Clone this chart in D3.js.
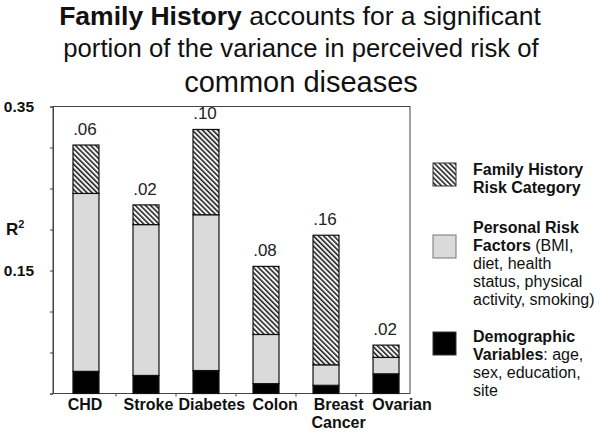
<!DOCTYPE html>
<html><head><meta charset="utf-8">
<script src="https://cdn.jsdelivr.net/npm/d3@7"></script>
<style>
html,body{margin:0;padding:0;background:#fff;}
svg{display:block;font-family:"Liberation Sans",Arial,Helvetica,sans-serif;}
</style></head>
<body><svg id="chart" width="600" height="434"></svg>
<script>
// ---- data ----
const categories = ["CHD", "Stroke", "Diabetes", "Colon", "Breast Cancer", "Ovarian"];
const demographic = [0.027, 0.022, 0.028, 0.012, 0.010, 0.024];
const personal = [0.217, 0.184, 0.190, 0.060, 0.025, 0.020];
const familyHistory = [0.059, 0.024, 0.104, 0.083, 0.158, 0.015];
const valueLabels = [".06", ".02", ".10", ".08", ".16", ".02"];
const yTicks = [0, 0.05, 0.10, 0.15, 0.20, 0.25, 0.30, 0.35];
const yTickLabels = {"0.15": "0.15", "0.35": "0.35"};
const seriesKeys = ["demographic", "personal", "family"];

const svg = d3.select("#chart");
const ink = "#111";

// hatch pattern
const defs = svg.append("defs");
const pat = defs.append("pattern").attr("id", "hatch").attr("patternUnits", "userSpaceOnUse")
  .attr("width", 3.6).attr("height", 3.6).attr("patternTransform", "rotate(-45)");
pat.append("rect").attr("width", 3.6).attr("height", 3.6).attr("fill", "#f4f4f4");
pat.append("rect").attr("x", 0).attr("width", 1.5).attr("height", 3.6).attr("fill", "#1a1a1a");

const plot = {left: 53, right: 410, top: 106.5, bottom: 393.5};
const y = d3.scaleLinear().domain([0, 0.35]).range([plot.bottom, plot.top]);
const x = d3.scaleBand().domain(categories).range([56, 416]).paddingInner(0.567).paddingOuter(0.283);
const xLab = d3.scalePoint().domain(categories).range([85, 402]);

const table = categories.map((c, i) => ({cat: c, demographic: demographic[i], personal: personal[i], family: familyHistory[i], label: valueLabels[i]}));
const stacked = d3.stack().keys(seriesKeys)(table);
const fills = {demographic: "#000", personal: "#dadada", family: "url(#hatch)"};

// title
const title = svg.append("text").attr("text-anchor", "middle").attr("fill", ink);
const l1 = title.append("tspan").attr("x", 300).attr("y", 25).attr("font-size", 26.5);
l1.append("tspan").attr("font-weight", "bold").text("Family History");
l1.append("tspan").text(" accounts for a significant");
title.append("tspan").attr("x", 301).attr("y", 57).attr("font-size", 25.7).text("portion of the variance in perceived risk of");
title.append("tspan").attr("x", 301).attr("y", 92).attr("font-size", 29).text("common diseases");

// frame
svg.append("rect").attr("x", plot.left).attr("y", plot.top).attr("width", plot.right - plot.left)
  .attr("height", plot.bottom - plot.top).attr("fill", "none").attr("stroke", "#444").attr("stroke-width", 1);

// y axis
const yAxis = d3.axisLeft(y).tickValues(yTicks).tickSize(3).tickFormat(d => yTickLabels[d.toFixed(2)] || "");
const gy = svg.append("g").attr("transform", `translate(${plot.left},0)`).call(yAxis);
gy.select(".domain").attr("stroke", "#444");
gy.selectAll(".tick line").attr("stroke", "#444");
gy.selectAll(".tick text").attr("x", -19).attr("font-size", 15.5).attr("font-weight", "bold").attr("fill", ink)
  .attr("font-family", "Liberation Sans, Arial, sans-serif");

// R2 label
const r2 = svg.append("text").attr("x", 6).attr("y", y(0.2) + 5).attr("font-size", 17).attr("font-weight", "bold").attr("fill", ink);
r2.append("tspan").text("R");
r2.append("tspan").attr("font-size", 11).attr("dy", -7).text("2");

// x axis
const xAxis = d3.axisBottom(x).tickSize(3).tickFormat("");
const gx = svg.append("g").attr("transform", `translate(0,${plot.bottom})`).call(xAxis);
gx.select(".domain").attr("d", `M${plot.left},0H${plot.right}`).attr("stroke", "#444");
gx.selectAll(".tick").attr("transform", d => `translate(${x(d) + x.bandwidth() + x.step() * x.paddingInner() / 2},0)`);
gx.selectAll(".tick").filter(d => d === categories[categories.length - 1]).remove();
gx.selectAll(".tick line").attr("stroke", "#444");

// bars
svg.append("g").selectAll("g").data(stacked).join("g").attr("fill", d => fills[d.key])
  .selectAll("rect").data(d => d).join("rect")
  .attr("x", d => x(d.data.cat)).attr("width", x.bandwidth())
  .attr("y", d => y(d[1])).attr("height", d => y(d[0]) - y(d[1]))
  .attr("stroke", "#111").attr("stroke-width", 1.2);

// value labels
svg.append("g").selectAll("text").data(table).join("text")
  .attr("x", d => x(d.cat) + x.bandwidth() / 2 - 1)
  .attr("y", d => y(d.demographic + d.personal + d.family) - 10)
  .attr("text-anchor", "middle").attr("font-size", 17).attr("fill", "#222").text(d => d.label);

// category labels
const cl = svg.append("g").selectAll("text").data(categories).join("text")
  .attr("x", d => xLab(d)).attr("y", 410).attr("text-anchor", "middle")
  .attr("font-size", 16).attr("font-weight", "bold").attr("fill", ink);
cl.each(function(d) {
  const parts = d.split(" ");
  const t = d3.select(this);
  parts.forEach((p, i) => t.append("tspan").attr("x", xLab(d)).attr("dy", i === 0 ? 0 : 18).text(p));
});

// legend
const legend = [
  {key: "family", lines: [[["Family History", true]], [["Risk Category", true]]]},
  {key: "personal", lines: [[["Personal Risk", true]], [["Factors", true], [" (BMI,", false]], [["diet, health", false]], [["status, physical", false]], [["activity, smoking)", false]]]},
  {key: "demographic", lines: [[["Demographic", true]], [["Variables", true], [": age,", false]], [["sex, education,", false]], [["site", false]]]}
];
const legendY = [163, 235, 332];
const lg = svg.append("g");
legend.forEach((item, i) => {
  lg.append("rect").attr("x", 433).attr("y", legendY[i]).attr("width", 23).attr("height", 23)
    .attr("fill", fills[item.key]).attr("stroke", item.key === "personal" ? "#777" : "#333").attr("stroke-width", 1);
  const t = lg.append("text").attr("font-size", 16).attr("fill", ink);
  const firstBase = [175, 233, 342][i];
  item.lines.forEach((line, j) => {
    const ts = t.append("tspan").attr("x", 473).attr("y", firstBase + j * 18);
    line.forEach(([s, b]) => ts.append("tspan").attr("font-weight", b ? "bold" : "normal").text(s));
  });
});
</script></body></html>
